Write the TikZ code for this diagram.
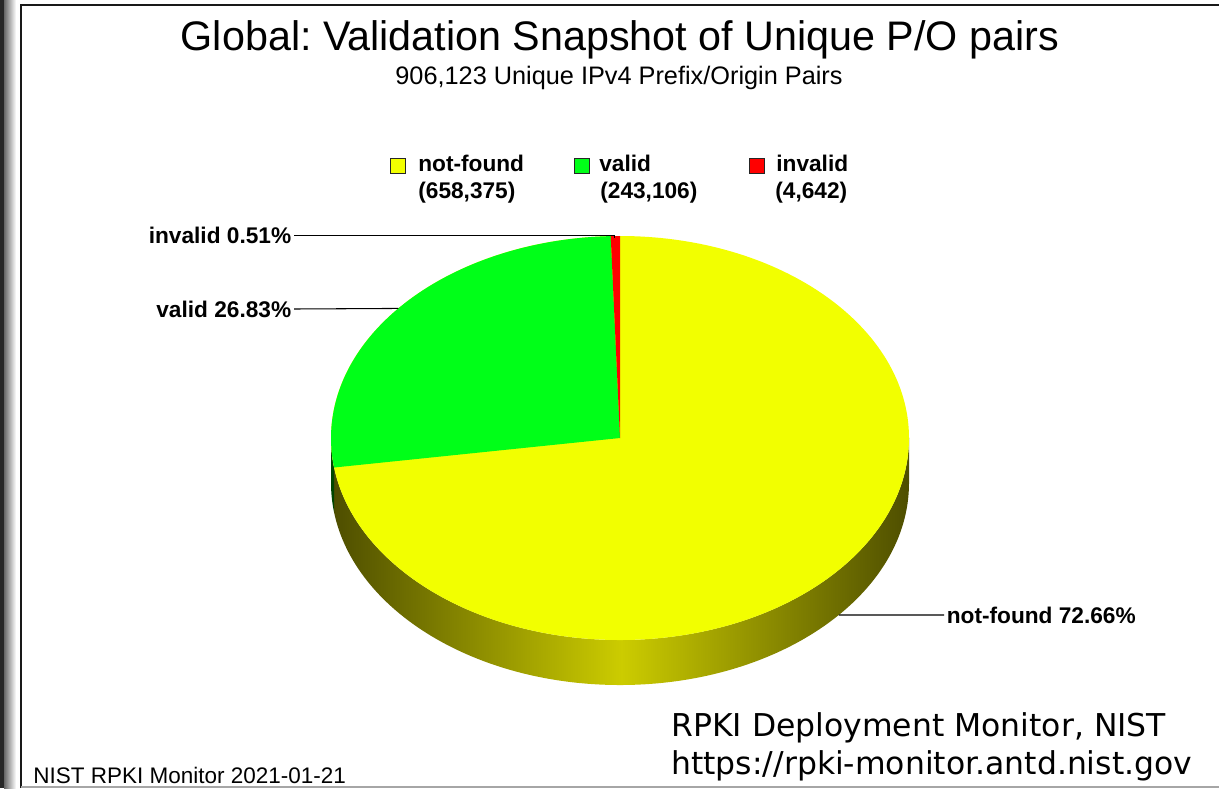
\documentclass[tikz,border=0pt]{standalone}
\usepackage{fontspec}
\setmainfont{Liberation Sans}
\newfontfamily\creditfont{DejaVu Sans}
\usepackage{tikz}
\usetikzlibrary{positioning}
\frenchspacing

\definecolor{pieyellow}{RGB}{242,255,0}
\definecolor{piegreen}{RGB}{0,255,24}
\definecolor{piered}{RGB}{255,0,0}
\definecolor{sidedark}{RGB}{78,78,0}
\definecolor{sidelight}{RGB}{204,204,0}
\definecolor{sidegreen}{RGB}{0,70,0}

\begin{document}
\begin{tikzpicture}[x=0.02cm,y=-0.02cm,
    lbl/.style={font=\bfseries\fontsize{12.9}{15}\selectfont,inner sep=1.4pt},
    lgd/.style={font=\bfseries\fontsize{12.9}{15}\selectfont,inner sep=0pt,anchor=base west},
    swatch/.style={draw=black!85,line width=0.5pt,inner sep=0pt,minimum size=0.29cm},
    leader/.style={draw=black,line width=0.6pt},
    rim/.style={x radius=289,y radius=202}]
              \useasboundingbox (0,0) rectangle (1219,788);
              \fill[black!85] (0,0) rectangle (4,788);
              \shade[left color=black!60,right color=white] (4,0) rectangle (16,788);
              \draw[line width=1.1pt,black!90] (21,788) -- (21,5) -- (1219,5);
              \draw[line width=0.6pt,black!35] (21,787) -- (1219,787);

              \node[font=\fontsize{23.5}{28}\selectfont,anchor=base] (title) at (620,50) {Global: Validation Snapshot of Unique P/O pairs};
              \node[font=\fontsize{14.4}{17}\selectfont,anchor=base] (subtitle) at (619,84) {906,123 Unique IPv4 Prefix/Origin Pairs};

              \node[swatch,fill=pieyellow] (swNotFound) at (398,166) {};
              \node[swatch,fill=piegreen] (swValid) at (582,166) {};
              \node[swatch,fill=piered] (swInvalid) at (757,166) {};
              \node[lgd] (lgNotFound) at (418,171) {not-found};
              \node[lgd] (lgNotFoundN) at (418,198) {(658,375)};
              \node[lgd] (lgValid) at (599,171) {valid};
              \node[lgd] (lgValidN) at (600,198) {(243,106)};
              \node[lgd] (lgInvalid) at (776,171) {invalid};
              \node[lgd] (lgInvalidN) at (775,198) {(4,642)};

              \begin{scope}[shift={(620,438)},yscale=-1]
                \shade[left color=sidedark,right color=sidedark,middle color=sidelight]
                  (188.4:289 and 202) arc[start angle=188.4,end angle=360,rim]
                  -- ++(0,-45) arc[start angle=360,end angle=188.4,rim] -- cycle;
                \fill[sidegreen] (180:289 and 202) arc[start angle=180,end angle=188.4,rim]
                  -- ++(0,-45) arc[start angle=188.4,end angle=180,rim] -- cycle;
                \fill[pieyellow] (0,0) ellipse[rim];
                \fill[piegreen] (0,0) -- (91.84:289 and 202) arc[start angle=91.84,end angle=188.4,rim] -- cycle;
                \fill[piered] (0,0) -- (90:289 and 202) arc[start angle=90,end angle=91.84,rim] -- cycle;
                \coordinate (ptInvalid) at (91:289 and 200);
                \coordinate (ptValid) at (140.1:289 and 202);
                \path (319.2:289 and 202) ++(0,-45) coordinate (ptNotFound);
              \end{scope}

              \node[lbl,anchor=east] (lblInvalid) at (294,235.5) {invalid 0.51\%};
              \node[lbl,anchor=east] (lblValid) at (294,309) {valid 26.83\%};
              \node[lbl,anchor=west] (lblNotFound) at (944,615) {not-found 72.66\%};
              \draw[leader] (lblInvalid.east) -- (ptInvalid |- lblInvalid.east) -- (ptInvalid);
              \draw[leader] (lblValid.east) -- (ptValid);
              \draw[leader] (ptNotFound) -- (lblNotFound.west);

              \node[font=\fontsize{12.8}{15}\selectfont,anchor=base west,inner sep=0pt] (stamp) at (33,783) {NIST RPKI Monitor 2021-01-21};
              \node[font=\creditfont\fontsize{17.9}{21.6}\selectfont,anchor=base west,inner sep=0pt] (creditA) at (671,736) {RPKI Deployment Monitor, NIST};
              \node[font=\creditfont\fontsize{17.9}{21.6}\selectfont,anchor=base west,inner sep=0pt] (creditB) at (671,774) {https://rpki-monitor.antd.nist.gov};
            \end{tikzpicture}
\end{document}
